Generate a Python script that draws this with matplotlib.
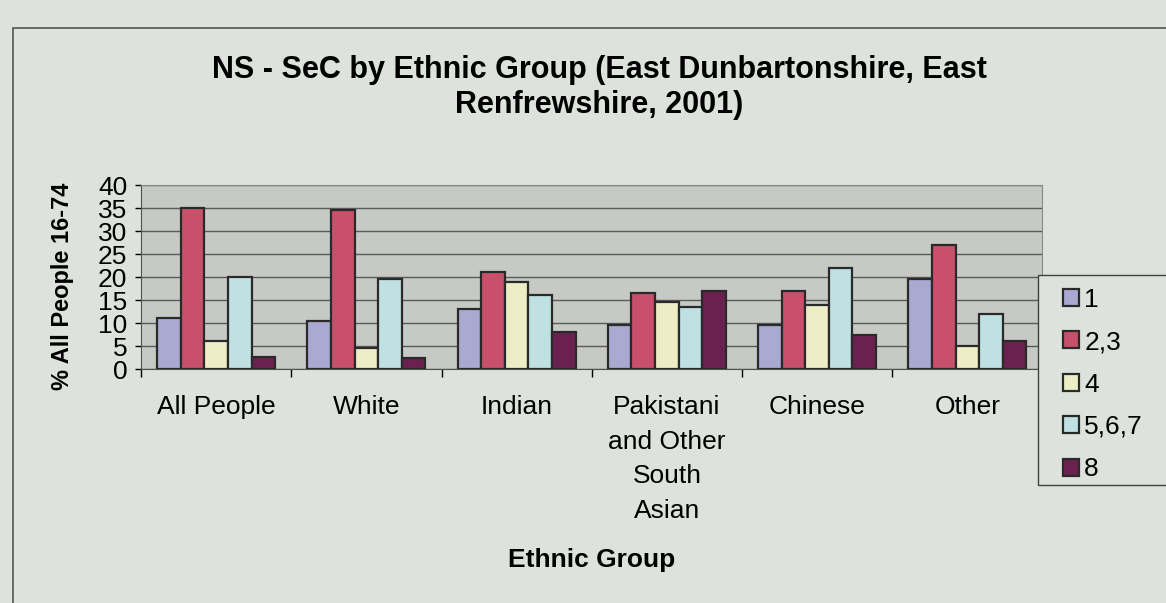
import numpy as np
import matplotlib
matplotlib.use('Agg')
import matplotlib.pyplot as plt
from matplotlib.patches import Rectangle

# ethnic groups along the x axis
groups = ['All People', 'White', 'Indian', 'Pakistani\nand Other\nSouth\nAsian', 'Chinese', 'Other']

# NS-SeC classes (legend) and their values, % of all people 16-74
classes = ['1', '2,3', '4', '5,6,7', '8']
ns_1 = [11, 10.5, 13, 9.5, 9.5, 19.5]
ns_23 = [35, 34.5, 21, 16.5, 17, 27]
ns_4 = [6, 4.5, 19, 14.5, 14, 5]
ns_567 = [20, 19.5, 16, 13.5, 22, 12]
ns_8 = [2.7, 2.3, 8, 17, 7.5, 6]

colours = ['#a9a9d2', '#c9506a', '#eeeec6', '#c0e1e1', '#6b2150']
bg = '#dde3dc'

plt.rcParams['font.family'] = ['Liberation Sans', 'DejaVu Sans']

fig = plt.figure(figsize=(11.66, 6.03), dpi=100, facecolor=bg)
ax = fig.add_axes([0.121, 0.388, 0.773, 0.305])
ax.set_facecolor('#c6c9c4')

series = [ns_1, ns_23, ns_4, ns_567, ns_8]
x = np.arange(len(groups))
w = 0.157
for i, vals in enumerate(series):
    ax.bar(x + (i - 2) * w, vals, w, color=colours[i], edgecolor='#2a2a2a',
           linewidth=1.6, label=classes[i], zorder=3)

ax.set_xlim(-0.5, len(groups) - 0.5)
ax.set_ylim(0, 40)
ax.set_yticks(range(0, 41, 5))
ax.tick_params(axis='y', labelsize=19, length=4, width=1, pad=6)
ax.yaxis.grid(True, color='#5a5a5a', linewidth=1)
ax.set_axisbelow(True)

# ticks between categories, labels at the centres
ax.set_xticks(np.arange(-0.5, len(groups), 1))
ax.set_xticklabels([])
ax.tick_params(axis='x', which='major', length=6, width=1, direction='out')
ax.set_xticks(x, minor=True)
ax.set_xticklabels(groups, minor=True, fontsize=19, linespacing=1.55)
ax.tick_params(axis='x', which='minor', length=0, pad=19)

for s in ['top', 'right']:
    ax.spines[s].set_color('#8a8a8a')
for s in ['left', 'bottom']:
    ax.spines[s].set_color('#505050')

ax.set_ylabel('% All People 16-74', fontsize=17, fontweight='bold')
ax.yaxis.set_label_coords(-0.074, 0.45)
ax.set_xlabel('Ethnic Group', fontsize=19, fontweight='bold', labelpad=18)

fig.text(0.514, 0.884, 'NS - SeC by Ethnic Group (East Dunbartonshire, East',
         ha='center', va='center', fontsize=22, fontweight='bold')
fig.text(0.514, 0.826, 'Renfrewshire, 2001)', ha='center', va='center',
         fontsize=22, fontweight='bold')

# legend box drawn separately so it can run off the right edge like the original
fig.patches.append(Rectangle((0.890, 0.196), 0.2, 0.348, transform=fig.transFigure,
                             facecolor=bg, edgecolor='#404040', linewidth=1))
leg = fig.legend(loc='upper left', bbox_to_anchor=(0.9005, 0.545), fontsize=19,
                 frameon=False, handlelength=0.6, handleheight=0.6,
                 handletextpad=0.2, labelspacing=0.7, borderpad=0.5, borderaxespad=0)

# border round the chart area
fig.patches.append(Rectangle((0.011, -0.1), 1.1, 1.053, transform=fig.transFigure,
                             fill=False, edgecolor='#555555', linewidth=1.2))

fig.savefig('out.png', dpi=100, facecolor=bg)
